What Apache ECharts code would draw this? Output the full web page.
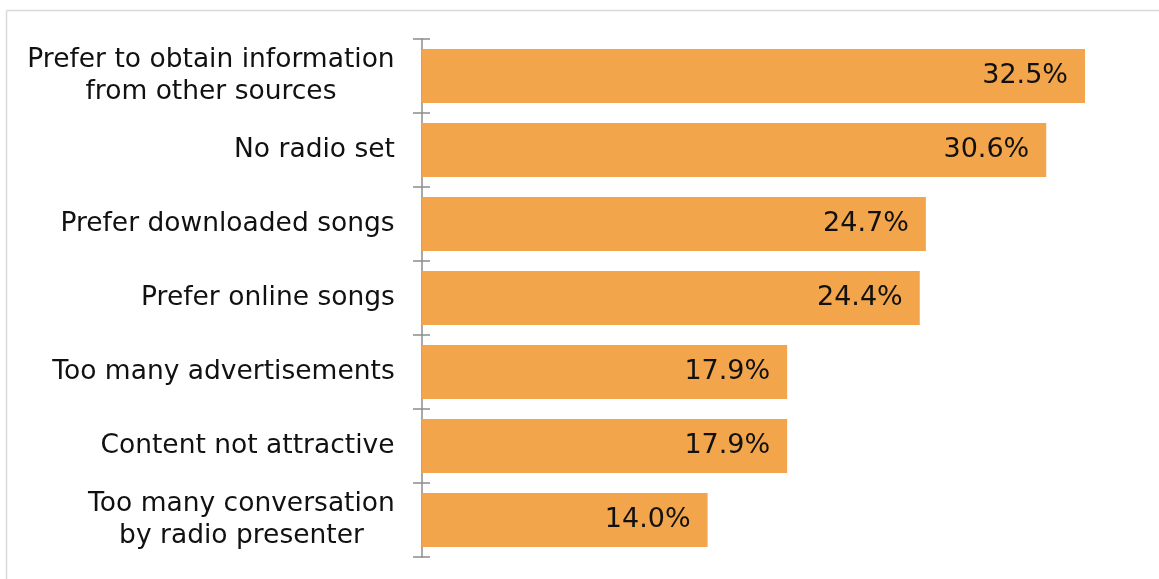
<!DOCTYPE html>
<html>
<head>
<meta charset="utf-8">
<style>
  html, body { margin: 0; padding: 0; background: #fff; }
  #chart { width: 1159px; height: 579px; }
</style>
<script src="https://cdn.jsdelivr.net/npm/echarts@6/dist/echarts.min.js"></script>
</head>
<body>
<div id="chart"></div>
<script>
// Reasons for not listening to the radio (% of respondents)
const categories = [
  'Prefer to obtain information\nfrom other sources',
  'No radio set',
  'Prefer downloaded songs',
  'Prefer online songs',
  'Too many advertisements',
  'Content not attractive',
  'Too many conversation\nby radio presenter'
];
const values = [32.5, 30.6, 24.7, 24.4, 17.9, 17.9, 14.0];

const FONT = 'DejaVu Sans';
const LABEL_SIZE = 26.5;

// Multi-line category names are centred line by line inside a right-aligned block:
// each line is drawn in a box as wide as the widest line of its label.
const measureCtx = document.createElement('canvas').getContext('2d');
measureCtx.font = LABEL_SIZE + 'px "' + FONT + '"';
const rich = {};
const labelText = {};
categories.forEach((name, i) => {
  const lines = name.split('\n');
  const w = Math.ceil(Math.max(...lines.map(l => measureCtx.measureText(l).width)));
  const key = 'c' + i;
  rich[key] = { width: w, align: 'center', fontFamily: FONT, fontSize: LABEL_SIZE, lineHeight: 32, color: '#111' };
  labelText[name] = lines.map(l => '{' + key + '|' + l + '}').join('\n');
});

const chart = echarts.init(document.getElementById('chart'), null, { renderer: 'canvas' });

chart.setOption({
  animation: false,
  backgroundColor: '#ffffff',
  grid: { left: 422, top: 39, width: 714, height: 518 },
  xAxis: {
    type: 'value', min: 0, max: 35,
    show: false
  },
  yAxis: [
    {
      type: 'category', data: categories, inverse: true,
      axisLine: { show: true, lineStyle: { color: '#8c8c8c', width: 1.5 } },
      axisTick: { show: true, length: 9, lineStyle: { color: '#8c8c8c', width: 1.5 } },
      axisLabel: {
        margin: 27, color: '#111', fontFamily: FONT, fontSize: LABEL_SIZE,
        lineHeight: 32, align: 'right',
        formatter: v => labelText[v],
        rich: rich
      },
      splitLine: { show: false }
    },
    {
      type: 'category', data: categories, inverse: true, position: 'left',
      axisLine: { show: false },
      axisTick: { show: true, inside: true, length: 8, lineStyle: { color: '#8c8c8c', width: 1.5 } },
      axisLabel: { show: false },
      splitLine: { show: false }
    }
  ],
  graphic: [
    { type: 'line', silent: true, shape: { x1: 6.5, y1: 10.5, x2: 1159, y2: 10.5 }, style: { stroke: '#d9d9d9', lineWidth: 1.5 } },
    { type: 'line', silent: true, shape: { x1: 6.5, y1: 10.5, x2: 6.5, y2: 579 }, style: { stroke: '#d9d9d9', lineWidth: 1.5 } }
  ],
  series: [{
    type: 'bar',
    data: values,
    barCategoryGap: '27%',
    itemStyle: { color: '#F2A54A' },
    label: {
      show: true, position: 'insideRight', distance: 17,
      color: '#111', fontFamily: FONT, fontSize: 27,
      formatter: p => p.value.toFixed(1) + '%'
    }
  }]
});
</script>
</body>
</html>
